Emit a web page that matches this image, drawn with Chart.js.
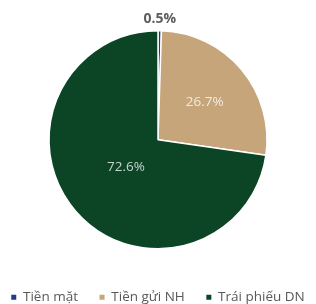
<!DOCTYPE html>
<html>
<head>
<meta charset="utf-8">
<script src="https://cdn.jsdelivr.net/npm/chart.js@4"></script>
<style>
  html, body { margin: 0; padding: 0; background: #fff; }
  #wrap { width: 316px; height: 304px; position: relative; }
</style>
</head>
<body>
<div id="wrap"><canvas id="c"></canvas></div>
<script>
// portfolio split (%)
const categories = ['Tiền mặt', 'Tiền gửi NH', 'Trái phiếu DN']
const shares = [0.5, 26.7, 72.6]
const sliceColors = ['#1f3a8f', '#c6a57a', '#0b4526']

// label placement: fraction of radius (>1 = outside)
const labelDist = [1.11, 0.56, 0.39]
const labelColor = ['#5e5e5e', '#f1ebdf', '#c9d2cd']

const sliceLabels = {
  id: 'sliceLabels',
  afterDatasetsDraw(chart) {
    const { ctx } = chart
    const meta = chart.getDatasetMeta(0)
    ctx.save()
    ctx.textAlign = 'center'
    ctx.textBaseline = 'middle'
    meta.data.forEach((arc, i) => {
      const p = arc.getProps(['x', 'y', 'startAngle', 'endAngle', 'outerRadius'], true)
      const mid = (p.startAngle + p.endAngle) / 2
      const d = p.outerRadius * labelDist[i]
      const x = p.x + Math.cos(mid) * d
      const y = p.y + Math.sin(mid) * d
      ctx.font = i === 0 ? 'bold 14px "Open Sans", sans-serif' : '13.5px "Open Sans", sans-serif'
      ctx.fillStyle = labelColor[i]
      ctx.fillText(shares[i].toFixed(1) + '%', x, y + (i === 1 ? 2 : 0))
    })
    ctx.restore()
  },
}

new Chart(document.getElementById('c'), {
  type: 'pie',
  data: {
    labels: categories,
    datasets: [{
      data: shares,
      backgroundColor: sliceColors,
      borderColor: '#ffffff',
      borderWidth: 1.5,
      radius: 109,
    }],
  },
  options: {
    responsive: true,
    maintainAspectRatio: false,
    animation: false,
    layout: { padding: { top: 0, bottom: -10, left: 0, right: 0 } },
    plugins: {
      tooltip: { enabled: false },
      legend: {
        position: 'bottom',
        labels: {
          usePointStyle: true,
          pointStyle: 'rect',
          boxWidth: 5,
          boxHeight: 5,
          padding: 11,
          color: '#595959',
          font: { family: '"Open Sans", sans-serif', size: 13.5 },
          generateLabels(chart) {
            const base = Chart.overrides.pie.plugins.legend.labels.generateLabels(chart)
            return base.map((l, i) => ({ ...l, text: l.text + (i < 2 ? '   ' : ''), lineWidth: 0 }))
          },
        },
      },
    },
  },
  plugins: [sliceLabels],
})
</script>
</body>
</html>
